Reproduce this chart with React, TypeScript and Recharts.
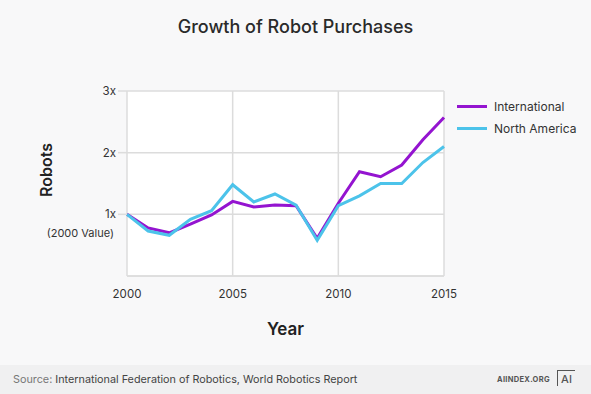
import { CartesianGrid, Line, LineChart, ReferenceLine, XAxis, YAxis } from "recharts";

const years = [2000, 2001, 2002, 2003, 2004, 2005, 2006, 2007, 2008, 2009, 2010, 2011, 2012, 2013, 2014, 2015];
const international = [1.0, 0.78, 0.7, 0.84, 0.99, 1.21, 1.12, 1.15, 1.14, 0.61, 1.18, 1.69, 1.61, 1.8, 2.21, 2.57];
const northAmerica = [1.0, 0.73, 0.66, 0.92, 1.06, 1.48, 1.2, 1.33, 1.15, 0.58, 1.14, 1.3, 1.5, 1.5, 1.84, 2.1];
const xTicks = [2000, 2005, 2010, 2015];
const yTicks = [1, 2, 3];

const data = years.map((y, i) => ({ year: y, intl: international[i], na: northAmerica[i] }));

const PURPLE = "#9414d0";
const CYAN = "#4cc3ea";
const GRID = "#dcdcdc";
const FONT = "Inter, 'Noto Sans', sans-serif";

const legendItems = [
  { name: "International", color: PURPLE },
  { name: "North America", color: CYAN },
];

function LegendBox() {
  return (
    <div style={{ position: "absolute", left: 457, top: 95, fontFamily: FONT, fontSize: 12, color: "#333" }}>
      {legendItems.map((it) => (
        <div key={it.name} style={{ display: "flex", alignItems: "center", height: 22 }}>
          <span style={{ display: "inline-block", width: 30, height: 3, background: it.color, marginRight: 7 }} />
          {it.name}
        </div>
      ))}
    </div>
  );
}

export default function App() {
  return (
    <div style={{ position: "absolute", left: 0, top: 0, width: 591, height: 394, background: "#f8f8f9", fontFamily: FONT, overflow: "hidden" }}>
      <div style={{ position: "absolute", top: 16, width: 591, textAlign: "center", fontSize: 18, fontWeight: 500, color: "#2a2a2a" }}>
        Growth of Robot Purchases
      </div>
      <LineChart
        width={591}
        height={394}
        data={data}
        margin={{ top: 91, right: 147, left: 97, bottom: 98 }}
        style={{ position: "absolute", left: 0, top: 0 }}
      >
        <CartesianGrid fill="#fff" stroke={GRID} strokeWidth={1.5} />
        <XAxis
          dataKey="year"
          type="number"
          domain={[2000, 2015]}
          ticks={xTicks}
          axisLine={false}
          tickLine={false}
          tick={{ fill: "#333", fontSize: 11.5 }}
          tickMargin={8}
          height={20}
        />
        <YAxis
          domain={[0, 3]}
          ticks={yTicks}
          width={30}
          axisLine={false}
          tickSize={9}
          tickMargin={2}
          tickLine={{ stroke: GRID, strokeWidth: 1.5 }}
          tickFormatter={(v: number) => `${v}x`}
          tick={{ fill: "#333", fontSize: 11.5 }}
        />
        <ReferenceLine y={0} stroke={GRID} strokeWidth={1.5} />
        <Line type="linear" dataKey="intl" name="International" stroke={PURPLE} strokeWidth={3} dot={false} isAnimationActive={false} />
        <Line type="linear" dataKey="na" name="North America" stroke={CYAN} strokeWidth={3} dot={false} isAnimationActive={false} />
      </LineChart>
      <LegendBox />
      <div style={{ position: "absolute", left: 46, top: 170, transform: "translate(-50%, -50%) rotate(-90deg)", fontSize: 16, fontWeight: 600, color: "#222", whiteSpace: "nowrap" }}>
        Robots
      </div>
      <div style={{ position: "absolute", right: 591 - 114, top: 226, fontSize: 11, color: "#333", whiteSpace: "nowrap" }}>
        (2000 Value)
      </div>
      <div style={{ position: "absolute", left: 0, width: 571, top: 319, textAlign: "center", fontSize: 17, fontWeight: 600, color: "#222" }}>
        Year
      </div>
      <div style={{ position: "absolute", left: 0, top: 365, width: 591, height: 29, background: "#f0f0f1" }}>
        <div style={{ position: "absolute", left: 13, top: 8, fontSize: 10.8, color: "#444", whiteSpace: "nowrap" }}>
          <span style={{ color: "#777" }}>Source: </span>International Federation of Robotics, World Robotics Report
        </div>
        <div style={{ position: "absolute", left: 497, top: 10, fontSize: 7.5, fontWeight: 700, color: "#555", letterSpacing: 0.3 }}>
          AIINDEX.ORG
        </div>
        <div style={{ position: "absolute", left: 557, top: 5, width: 17, height: 15, borderTop: "1.5px solid #555", borderLeft: "1.5px solid #555", fontSize: 11, lineHeight: "17px", textAlign: "center", color: "#555", fontWeight: 500 }}>
          AI
        </div>
      </div>
    </div>
  );
}
